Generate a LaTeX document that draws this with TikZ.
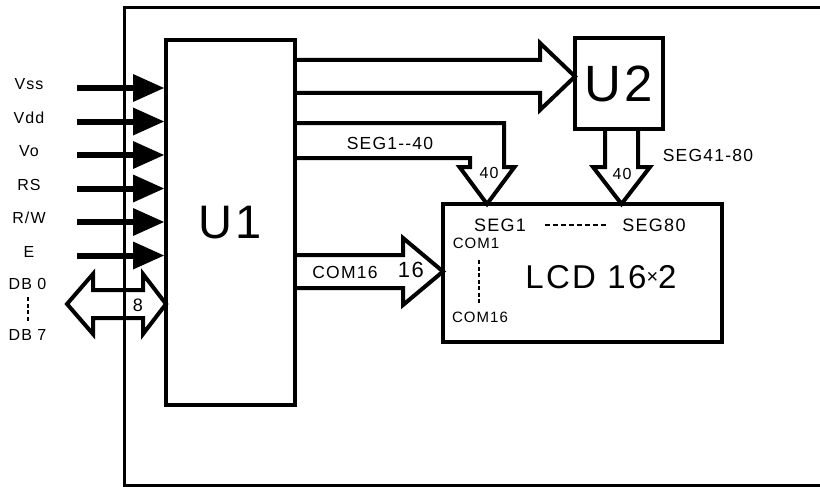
\documentclass[tikz,border=0pt]{standalone}
\usepackage{fontspec}
\setmainfont{Liberation Sans}
\newfontfamily\trk{Liberation Sans}[LetterSpace=7]
\begin{document}
\begin{tikzpicture}[x=1pt,y=-1pt,
  box/.style={draw, line width=4pt, inner sep=0pt},
  bus/.style={draw, line width=4pt, line join=miter},
  lbl/.style={inner sep=0pt, font=\trk\fontsize{16}{16}\selectfont},
  mid/.style={inner sep=0pt, font=\trk\fontsize{17.5}{17.5}\selectfont},
  sml/.style={inner sep=0pt, font=\trk\fontsize{15}{15}\selectfont},
  dots/.style={line width=2pt, dash pattern=on 4pt off 2.5pt},
]
\useasboundingbox (0,0) rectangle (820,487);
\clip (0,0) rectangle (820,487);
% outer frame
\draw[line width=3pt] (830,8) -- (124,8) -- (124,485) -- (830,485);
% blocks
\node[box, minimum width=129pt, minimum height=365pt, font=\trk\fontsize{47}{47}\selectfont] (U1) at (230.5,222.5) {U1};
\node[box, minimum width=88pt, minimum height=91pt, font=\trk\fontsize{51}{51}\selectfont] (U2) at (619,83.5) {U2};
\node[box, minimum width=279pt, minimum height=138pt] (LCD) at (582.5,273) {};
% bus U1 -> U2
\draw[bus] (295,60) -- (540,60) -- (540,43) -- (575,76.5) -- (540,110) -- (540,93) -- (295,93);
% bus SEG1--40
\draw[bus] (295,123) -- (504,123) -- (504,167) -- (514.5,167) -- (487,204) -- (459.5,167) -- (470,167) -- (470,158) -- (295,158);
\node[mid] (seg140) at (390,143) {SEG1--40};
\node[lbl] (n40a) at (489,173) {40};
% bus U2 -> LCD
\draw[bus] (605,129) -- (605,167) -- (593,167) -- (621.5,204) -- (650,167) -- (638,167) -- (638,129);
\node[lbl] (n40b) at (622,174) {40};
\node[mid] (seg4180) at (708,155) {SEG41-80};
% bus COM16
\draw[bus] (295,255) -- (403,255) -- (403,238) -- (443,271.5) -- (403,305) -- (403,288) -- (295,288);
\node[mid] (com16a) at (345,272) {COM16};
\node[inner sep=0pt, font=\trk\fontsize{22}{22}\selectfont] (n16) at (411,270) {16};
% LCD contents
\node[mid, font=\trk\fontsize{18}{18}\selectfont] (seg1) at (500,225) {SEG1};
\node[mid, font=\trk\fontsize{18}{18}\selectfont] (seg80) at (654,225) {SEG80};
\coordinate (d1) at (545,225);
\coordinate (d2) at (606,225);
\draw[line width=2pt, dash pattern=on 5pt off 3pt] (d1) -- (d2);
\node[sml] (com1) at (476,243) {COM1};
\node[sml] (com16b) at (480,317) {COM16};
\draw[dots] (479,260) -- (479,303);
\node[inner sep=0pt, font=\trk\fontsize{33}{33}\selectfont] (lcdt) at (601,277) {LCD 16\raisebox{5pt}{\fontsize{20}{20}\selectfont ×}2};
% left inputs
\foreach \i/\y/\t in {1/88/Vss, 2/121.5/Vdd, 3/155/Vo, 4/188.5/RS, 5/222/{R/W}, 6/255.5/E} {
  \node[lbl] (L\i) at (29,\y-4) {\t};
  \coordinate (s\i) at (77,\y);
  \draw[line width=6pt] (s\i) -- ++(58,0);
  \fill (133,\y-14) -- (U1.west |- s\i) -- (133,\y+14) -- cycle;
}
% data bus
\node[lbl] (db0) at (27.5,284) {DB 0};
\node[lbl] (db7) at (27.5,335) {DB 7};
\draw[dots] (28,297) -- (28,322);
\draw[bus] (93,290) -- (143,290) -- (143,274) -- (166,304) -- (143,334) -- (143,318) -- (93,318) -- (93,334) -- (67,304) -- (93,274) -- cycle;
\node[inner sep=0pt, font=\trk\fontsize{18}{18}\selectfont] (n8) at (138,305) {8};
\end{tikzpicture}
\end{document}
